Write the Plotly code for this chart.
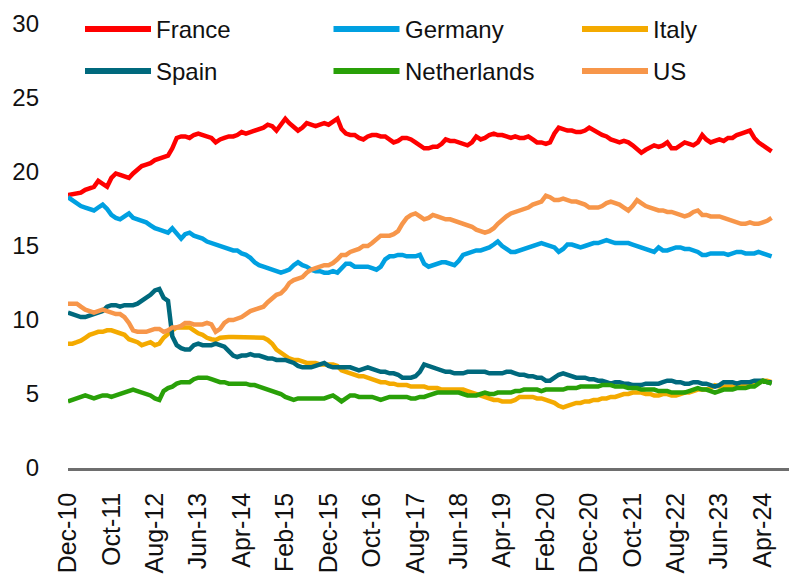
import pandas as pd
import plotly.graph_objects as go

# ---------------- data (share, %) monthly Dec-10 .. Jun-24 ----------------
start_month = "2010-12-01"

series_names = ["France", "Germany", "Italy", "Spain", "Netherlands", "US"]
series_colors = ["#FF0000", "#00A0E1", "#F4AA00", "#00697D", "#29A008", "#F7964A"]

france = [
    18.45, 18.5, 18.6, 18.6, 18.8, 18.9, 19.0, 19.4, 19.2, 19.0,
    19.6, 19.9, 19.8, 19.7, 19.6, 19.9, 20.2, 20.4, 20.5, 20.6,
    20.8, 20.9, 21.0, 21.1, 21.6, 22.3, 22.4, 22.4, 22.3, 22.5,
    22.6, 22.5, 22.4, 22.3, 22.0, 22.2, 22.3, 22.4, 22.4, 22.5,
    22.7, 22.6, 22.7, 22.8, 22.9, 23.0, 23.2, 23.1, 22.8, 23.2,
    23.6, 23.3, 23.0, 22.8, 23.0, 23.3, 23.2, 23.1, 23.2, 23.3,
    23.2, 23.4, 23.6, 22.9, 22.6, 22.5, 22.5, 22.3, 22.2, 22.4,
    22.5, 22.5, 22.4, 22.4, 22.2, 22.0, 22.1, 22.3, 22.3, 22.2,
    22.0, 21.8, 21.6, 21.6, 21.7, 21.7, 21.9, 22.2, 22.1, 22.1,
    22.0, 21.9, 21.8, 22.0, 22.4, 22.2, 22.3, 22.5, 22.6, 22.5,
    22.5, 22.4, 22.3, 22.4, 22.3, 22.3, 22.4, 22.2, 22.0, 22.0,
    21.9, 22.0, 22.6, 23.0, 22.9, 22.8, 22.8, 22.7, 22.7, 22.8,
    23.0, 22.8, 22.6, 22.5, 22.4, 22.2, 22.1, 22.0, 22.1, 22.0,
    21.8, 21.5, 21.3, 21.5, 21.7, 21.8, 21.7, 21.8, 22.0, 21.6,
    21.6, 21.8, 22.0, 21.9, 21.8, 22.0, 22.5, 22.2, 22.0, 22.1,
    22.2, 22.1, 22.3, 22.3, 22.5, 22.6, 22.7, 22.8, 22.3, 22.0,
    21.8, 21.6, 21.4,
]

germany = [
    18.3, 18.1, 17.9, 17.7, 17.6, 17.5, 17.4, 17.6, 17.8, 17.5,
    17.1, 16.9, 16.8, 17.0, 17.2, 16.9, 16.8, 16.7, 16.6, 16.4,
    16.2, 16.1, 16.0, 15.9, 16.2, 15.8, 15.5, 15.8, 15.9, 15.7,
    15.6, 15.5, 15.3, 15.2, 15.1, 15.0, 14.9, 14.8, 14.7, 14.7,
    14.5, 14.4, 14.2, 13.9, 13.7, 13.6, 13.5, 13.4, 13.3, 13.2,
    13.3, 13.4, 13.7, 13.9, 13.7, 13.6, 13.4, 13.3, 13.3, 13.2,
    13.2, 13.3, 13.2, 13.5, 13.8, 13.8, 13.6, 13.6, 13.6, 13.6,
    13.5, 13.4, 13.6, 14.1, 14.3, 14.3, 14.4, 14.4, 14.3, 14.3,
    14.3, 14.4, 13.8, 13.6, 13.7, 13.85, 13.9, 13.9, 13.8, 13.7,
    14.0, 14.4, 14.5, 14.6, 14.7, 14.7, 14.8, 14.9, 15.1, 15.3,
    15.0, 14.8, 14.6, 14.6, 14.7, 14.8, 14.9, 15.0, 15.1, 15.2,
    15.1, 15.0, 14.9, 14.6, 14.8, 15.1, 15.1, 15.0, 14.9, 15.0,
    15.1, 15.2, 15.2, 15.3, 15.4, 15.3, 15.2, 15.2, 15.2, 15.2,
    15.1, 15.0, 14.9, 14.8, 14.7, 14.6, 14.9, 14.7, 14.7, 14.8,
    14.9, 14.9, 14.8, 14.8, 14.7, 14.6, 14.4, 14.4, 14.5, 14.5,
    14.5, 14.5, 14.4, 14.5, 14.6, 14.6, 14.5, 14.5, 14.5, 14.6,
    14.5, 14.4, 14.3,
]

italy = [
    8.4, 8.4, 8.5, 8.6, 8.8, 9.0, 9.1, 9.2, 9.2, 9.3,
    9.3, 9.2, 9.1, 9.0, 8.7, 8.6, 8.5, 8.3, 8.4, 8.5,
    8.3, 8.4, 8.8, 9.1, 9.3, 9.5, 9.5, 9.5, 9.5, 9.3,
    9.1, 9.0, 8.8, 8.7, 8.65, 8.8, 8.85, 8.85, 8.85, 8.85,
    8.85, 8.8, 8.8, 8.8, 8.85, 8.8, 8.65, 8.4, 8.0, 7.8,
    7.6, 7.4, 7.3, 7.3, 7.2, 7.1, 7.1, 7.1, 7.0, 7.0,
    7.0, 7.0, 6.9, 6.6, 6.5, 6.4, 6.3, 6.2, 6.2, 6.1,
    6.0, 5.9, 5.8, 5.8, 5.7, 5.7, 5.6, 5.6, 5.6, 5.5,
    5.5, 5.5, 5.5, 5.4, 5.4, 5.4, 5.3, 5.3, 5.3, 5.3,
    5.3, 5.3, 5.2, 5.1, 5.0, 4.9, 4.8, 4.7, 4.6, 4.6,
    4.5, 4.5, 4.5, 4.6, 4.8, 4.8, 4.8, 4.8, 4.7, 4.7,
    4.6, 4.5, 4.4, 4.2, 4.1, 4.2, 4.3, 4.4, 4.4, 4.5,
    4.5, 4.6, 4.6, 4.7, 4.7, 4.8, 4.8, 4.9, 5.0, 5.0,
    5.1, 5.1, 5.1, 5.0, 5.0, 4.9, 4.9, 5.0, 5.0, 4.9,
    4.9, 5.0, 5.1, 5.1, 5.2, 5.3, 5.3, 5.3, 5.4, 5.6,
    5.5, 5.5, 5.5, 5.5, 5.6, 5.6, 5.7, 5.7, 5.7, 5.8,
    5.9, 5.9, 5.8,
]

spain = [
    10.5, 10.4, 10.3, 10.2, 10.2, 10.3, 10.4, 10.5, 10.6, 10.9,
    11.0, 11.0, 10.9, 11.0, 11.0, 11.0, 11.1, 11.3, 11.5, 11.7,
    12.0, 12.1, 11.5, 11.3, 8.9, 8.3, 8.1, 8.0, 8.0, 8.3,
    8.4, 8.3, 8.3, 8.3, 8.4, 8.3, 8.2, 7.9, 7.6, 7.5,
    7.6, 7.6, 7.7, 7.6, 7.6, 7.5, 7.4, 7.4, 7.3, 7.3,
    7.3, 7.2, 7.1, 6.9, 6.8, 6.8, 6.8, 6.9, 7.0, 7.1,
    6.9, 6.8, 6.8, 6.8, 6.8, 6.8, 6.7, 6.6, 6.7, 6.8,
    6.7, 6.6, 6.5, 6.5, 6.4, 6.4, 6.3, 6.1, 6.1, 6.1,
    6.2, 6.5, 7.0, 6.9, 6.8, 6.7, 6.6, 6.5, 6.5, 6.4,
    6.4, 6.4, 6.5, 6.5, 6.5, 6.5, 6.5, 6.4, 6.4, 6.4,
    6.4, 6.5, 6.5, 6.4, 6.3, 6.3, 6.2, 6.2, 6.1, 6.1,
    5.9, 5.9, 6.1, 6.3, 6.4, 6.3, 6.2, 6.1, 6.1, 6.1,
    6.0, 6.0, 5.9, 5.9, 5.8, 5.7, 5.8, 5.8, 5.7, 5.7,
    5.6, 5.6, 5.6, 5.7, 5.7, 5.7, 5.7, 5.8, 5.9, 5.9,
    5.8, 5.8, 5.7, 5.7, 5.8, 5.8, 5.7, 5.7, 5.6, 5.5,
    5.6, 5.8, 5.8, 5.8, 5.7, 5.8, 5.8, 5.8, 5.9, 5.9,
    5.9, 5.8, 5.8,
]

netherlands = [
    4.5, 4.6, 4.7, 4.8, 4.9, 4.8, 4.7, 4.8, 4.9, 4.9,
    4.8, 4.9, 5.0, 5.1, 5.2, 5.3, 5.2, 5.1, 5.0, 4.9,
    4.7, 4.6, 5.2, 5.4, 5.5, 5.7, 5.8, 5.8, 5.8, 6.0,
    6.1, 6.1, 6.1, 6.0, 5.9, 5.8, 5.8, 5.7, 5.7, 5.7,
    5.7, 5.7, 5.6, 5.6, 5.5, 5.4, 5.3, 5.2, 5.1, 5.0,
    4.8, 4.7, 4.6, 4.7, 4.7, 4.7, 4.7, 4.7, 4.7, 4.7,
    4.8, 4.9, 4.7, 4.5, 4.7, 4.9, 4.9, 4.8, 4.8, 4.8,
    4.8, 4.7, 4.6, 4.7, 4.8, 4.8, 4.8, 4.8, 4.8, 4.7,
    4.7, 4.8, 4.8, 4.9, 5.0, 5.1, 5.1, 5.1, 5.1, 5.1,
    5.1, 5.0, 4.9, 4.9, 4.9, 5.0, 5.1, 5.0, 5.0, 5.1,
    5.1, 5.1, 5.1, 5.2, 5.2, 5.3, 5.3, 5.3, 5.3, 5.2,
    5.3, 5.3, 5.3, 5.3, 5.3, 5.4, 5.4, 5.4, 5.5, 5.5,
    5.5, 5.5, 5.5, 5.6, 5.6, 5.6, 5.5, 5.5, 5.5, 5.4,
    5.4, 5.4, 5.3, 5.3, 5.3, 5.3, 5.2, 5.2, 5.2, 5.1,
    5.1, 5.1, 5.1, 5.2, 5.3, 5.4, 5.3, 5.3, 5.2, 5.1,
    5.2, 5.3, 5.3, 5.3, 5.4, 5.4, 5.4, 5.5, 5.5, 5.7,
    5.9, 5.8, 5.7,
]

us = [
    11.1, 11.1, 11.1, 10.9, 10.7, 10.6, 10.5, 10.6, 10.7, 10.6,
    10.5, 10.4, 10.4, 10.2, 9.8, 9.3, 9.2, 9.2, 9.2, 9.3,
    9.4, 9.4, 9.2, 9.3, 9.5, 9.5, 9.6, 9.8, 9.8, 9.7,
    9.7, 9.7, 9.8, 9.7, 9.2, 9.4, 9.8, 10.0, 10.0, 10.1,
    10.2, 10.4, 10.6, 10.7, 10.8, 10.9, 11.2, 11.5, 11.7, 11.8,
    12.1, 12.5, 12.7, 12.8, 12.9, 13.2, 13.4, 13.5, 13.6, 13.7,
    13.7, 13.85, 14.1, 14.4, 14.4, 14.6, 14.7, 14.8, 15.0, 15.0,
    15.2, 15.5, 15.7, 15.7, 15.7, 15.8, 16.0, 16.5, 16.9, 17.1,
    17.2, 17.0, 16.8, 16.9, 17.1, 17.0, 16.9, 16.8, 16.8, 16.7,
    16.6, 16.5, 16.4, 16.3, 16.1, 16.0, 15.9, 16.0, 16.2, 16.5,
    16.8, 17.0, 17.2, 17.3, 17.4, 17.5, 17.6, 17.8, 17.9, 18.0,
    18.4, 18.3, 18.1, 18.1, 18.2, 18.1, 18.0, 18.0, 17.9, 17.8,
    17.6, 17.6, 17.6, 17.7, 17.9, 18.0, 17.9, 17.8, 17.6, 17.4,
    17.7, 18.1, 17.9, 17.7, 17.6, 17.5, 17.4, 17.4, 17.3, 17.3,
    17.2, 17.1, 17.0, 17.1, 17.3, 17.4, 17.1, 17.1, 17.0, 17.0,
    17.0, 16.9, 16.8, 16.7, 16.6, 16.5, 16.5, 16.6, 16.5, 16.5,
    16.6, 16.7, 16.9,
]

series_values = [france, germany, italy, spain, netherlands, us]

tick_dates = ["2010-12-01", "2011-10-01", "2012-08-01", "2013-06-01", "2014-04-01",
              "2015-02-01", "2015-12-01", "2016-10-01", "2017-08-01", "2018-06-01",
              "2019-04-01", "2020-02-01", "2020-12-01", "2021-10-01", "2022-08-01",
              "2023-06-01", "2024-04-01"]
tick_labels = ["Dec-10", "Oct-11", "Aug-12", "Jun-13", "Apr-14", "Feb-15", "Dec-15",
               "Oct-16", "Aug-17", "Jun-18", "Apr-19", "Feb-20", "Dec-20", "Oct-21",
               "Aug-22", "Jun-23", "Apr-24"]
y_ticks = [0, 5, 10, 15, 20, 25, 30]

# ---------------- figure ----------------
# the page body has an 8px default margin, so the figure is sized to fill the rest
OFF = 8
W, H = 797 - OFF, 578 - OFF
ML, MR, MT, MB = 68 - OFF, 2, 24 - OFF, 110
PW, PH = W - ML - MR, H - MT - MB
FONT = "Liberation Sans, Arial, sans-serif"

fig = go.Figure()
for name, color, vals in zip(series_names, series_colors, series_values):
    x = pd.date_range(start_month, periods=len(vals), freq="MS")
    fig.add_trace(go.Scatter(x=x, y=vals, mode="lines", name=name,
                             line=dict(color=color, width=4.5, shape="linear"),
                             showlegend=False))

def px_x(px):
    # page pixel -> paper coordinate
    return (px - OFF - ML) / PW

def px_y(py):
    return (H - MB - (py - OFF)) / PH

# manual legend: 3 columns x 2 rows, long line samples
shapes = []
annotations = []
col_x = [85, 333.5, 582]
row_y = [29, 71]
for i, (name, color) in enumerate(zip(series_names, series_colors)):
    r, c = divmod(i, 3)
    x0 = col_x[c]
    x1 = x0 + 66
    y = row_y[r]
    shapes.append(dict(type="line", xref="paper", yref="paper",
                       x0=px_x(x0), x1=px_x(x1), y0=px_y(y), y1=px_y(y),
                       line=dict(color=color, width=6)))
    annotations.append(dict(xref="paper", yref="paper", x=px_x(x1 + 3), y=px_y(y),
                            text=name, showarrow=False, xanchor="left", yanchor="middle",
                            font=dict(size=24, color="#111111", family=FONT)))

fig.update_layout(
    width=W, height=H,
    margin=dict(l=ML, r=MR, t=MT, b=MB, autoexpand=False),
    paper_bgcolor="white", plot_bgcolor="white",
    font=dict(family=FONT, size=24, color="#111111"),
    shapes=shapes, annotations=annotations,
    showlegend=False,
)
fig.update_xaxes(
    type="date",
    range=["2010-12-01", "2024-11-12"],
    tickmode="array", tickvals=tick_dates, ticktext=tick_labels,
    tickangle=-90, showgrid=False, zeroline=False,
    showline=True, linecolor="#6e6e6e", linewidth=2.5,
    ticks="", ticklabelstandoff=12, automargin=False,
    tickfont=dict(size=25, color="#111111", family=FONT),
)
fig.update_yaxes(
    range=[0, 30], tickmode="array", tickvals=y_ticks,
    showgrid=False, zeroline=False, showline=False, ticks="",
    ticklabelstandoff=28, automargin=False,
    tickfont=dict(size=24, color="#111111", family=FONT),
)

fig.write_html("out.html")
